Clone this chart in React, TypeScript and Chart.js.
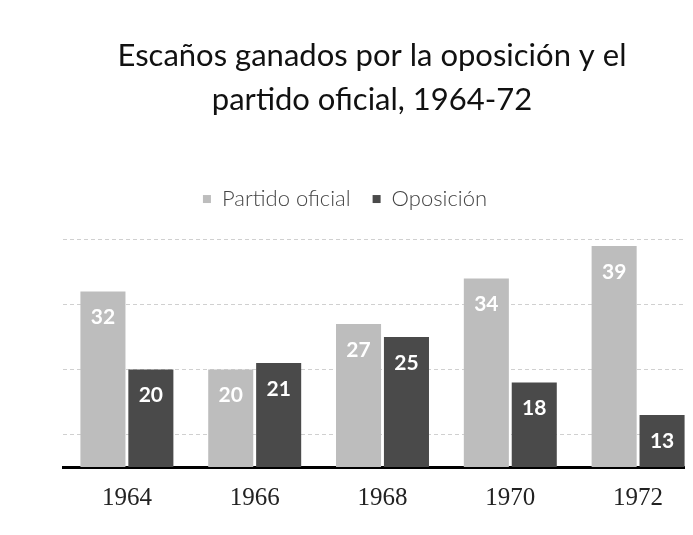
import React, { useEffect, useRef } from "react";
import { Chart, registerables } from "chart.js";

Chart.register(...registerables);

const categories = ["1964", "1966", "1968", "1970", "1972"];
const partidoOficial = [32, 20, 27, 34, 39];
const oposicion = [20, 21, 25, 18, 13];
const titleLines = ["Escaños ganados por la oposición y el", "partido oficial, 1964-72"];
const gridTicks = [10, 20, 30, 40];

const valueLabels = {
  id: "valueLabels",
  afterDatasetsDraw(chart: any) {
    const ctx = chart.ctx;
    ctx.save();
    ctx.font = "bold 21px Lato, 'Liberation Sans', sans-serif";
    ctx.fillStyle = "#ffffff";
    ctx.textAlign = "center";
    ctx.textBaseline = "middle";
    chart.data.datasets.forEach((ds: any, i: number) => {
      const meta = chart.getDatasetMeta(i);
      meta.data.forEach((bar: any, j: number) => {
        ctx.fillText(String(ds.data[j]), bar.x, bar.y + 26);
      });
    });
    ctx.restore();
  },
};

const legendShift = {
  id: "legendShift",
  afterLayout(chart: any) {
    if (chart.legend) {
      chart.legend.left -= 54;
    }
  },
};

export default function App() {
  const ref = useRef<HTMLCanvasElement>(null);
  useEffect(() => {
    if (!ref.current) return;
    const chart = new Chart(ref.current, {
      type: "bar",
      data: {
        labels: categories,
        datasets: [
          { label: "Partido oficial", data: partidoOficial, backgroundColor: "#bdbdbd" },
          { label: "Oposición", data: oposicion, backgroundColor: "#4a4a4a" },
        ],
      },
      plugins: [valueLabels, legendShift],
      options: {
        animation: false,
        responsive: false,
        maintainAspectRatio: false,
        layout: { padding: { left: 34, right: 26, top: 0, bottom: 14 } },
        datasets: { bar: { categoryPercentage: 0.75, barPercentage: 0.94 } },
        plugins: {
          tooltip: { enabled: false },
          title: {
            display: true,
            text: titleLines,
            color: "#111",
            font: { family: "Lato, 'Open Sans', sans-serif", size: 31, weight: "normal", lineHeight: 1.42 },
            padding: { top: 26, bottom: 44 },
          },
          legend: {
            display: true,
            position: "top",
            labels: {
              color: "#444",
              font: { family: "Lato, 'Open Sans', sans-serif", size: 22, weight: "300" },
              boxWidth: 8,
              boxHeight: 8,
              padding: 22,
            },
          },
        },
        scales: {
          x: {
            grid: { display: false },
            border: { display: true, color: "#000", width: 3 },
            ticks: {
              color: "#222",
              font: { family: "'Liberation Serif', serif", size: 25 },
              padding: 8,
            },
          },
          y: {
            min: 5,
            max: 43,
            afterFit: (axis: any) => {
              axis.width = 21;
            },
            afterBuildTicks: (axis: any) => {
              axis.ticks = gridTicks.map((v) => ({ value: v }));
            },
            ticks: { display: false },
            border: { display: false, dash: [4, 3] },
            grid: { color: "#d0d0d0", drawTicks: false, lineWidth: 1 },
          },
        },
      },
    });
    return () => chart.destroy();
  }, []);
  return (
    <div style={{ position: "relative", width: 685, height: 527, overflow: "hidden" }}>
      <canvas ref={ref} width={720} height={527} style={{ display: "block" }} />
    </div>
  );
}
